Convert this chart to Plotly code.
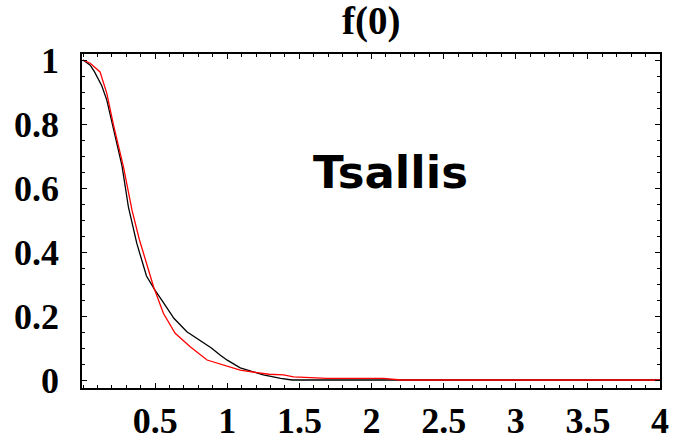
import plotly.graph_objects as go

# Black curve: f(0) sampled densely
x_black = [0.0, 0.05, 0.08, 0.13, 0.165, 0.21, 0.27, 0.315, 0.373, 0.44, 0.5,
           0.56, 0.63, 0.72, 0.81, 0.89, 0.95, 1.0, 1.09, 1.18, 1.25, 1.37,
           1.45, 2.0, 3.0, 4.0]
y_black = [1.0, 0.984, 0.963, 0.92, 0.875, 0.79, 0.67, 0.54, 0.427, 0.325, 0.28,
           0.24, 0.193, 0.151, 0.125, 0.1, 0.078, 0.062, 0.038, 0.026, 0.016, 0.005,
           0.0, 0.0, 0.0, 0.0]

# Red curve: Tsallis fit
x_red = [0.0, 0.05, 0.118, 0.165, 0.21, 0.28, 0.34, 0.39, 0.49, 0.558, 0.639,
         0.743, 0.86, 0.974, 1.09, 1.206, 1.29, 1.39, 1.46, 1.69, 2.085, 2.2,
         3.0, 4.0]
y_red = [1.0, 0.99, 0.963, 0.896, 0.80, 0.667, 0.53, 0.44, 0.29, 0.208, 0.146,
         0.104, 0.0625, 0.047, 0.031, 0.023, 0.018, 0.016, 0.01, 0.005, 0.005, 0.0,
         0.0, 0.0]

x_tickvals = [0.5, 1, 1.5, 2, 2.5, 3, 3.5, 4]
x_ticktext = ["0.5", "1", "1.5", "2", "2.5", "3", "3.5", "4"]
y_tickvals = [0, 0.2, 0.4, 0.6, 0.8, 1.0]
y_ticktext = ["0", "0.2", "0.4", "0.6", "0.8", "1"]

fig = go.Figure()
fig.add_trace(go.Scatter(x=x_black, y=y_black, mode="lines",
                         line=dict(color="black", width=1.3), showlegend=False))
fig.add_trace(go.Scatter(x=x_red, y=y_red, mode="lines",
                         line=dict(color="#ff0000", width=1.3), showlegend=False))

tick_font = dict(family="Liberation Serif", size=36, color="black", weight="bold")

fig.update_xaxes(
    range=[-0.007, 4.0], showgrid=False, zeroline=False, automargin=False,
    showline=True, linecolor="black", linewidth=1.5, mirror="allticks",
    tickmode="array", tickvals=x_tickvals, ticktext=x_ticktext,
    ticks="inside", ticklen=5, tickwidth=1, tickcolor="black",
    tickfont=tick_font, ticklabelstandoff=0,
    minor=dict(tickmode="linear", tick0=0, dtick=0.1, ticks="inside",
               ticklen=3, tickwidth=1, tickcolor="black"),
)
fig.update_yaxes(
    range=[-0.025, 1.019], showgrid=False, zeroline=False, automargin=False,
    showline=True, linecolor="black", linewidth=1.5, mirror="allticks",
    tickmode="array", tickvals=y_tickvals, ticktext=y_ticktext,
    ticks="inside", ticklen=5, tickwidth=1, tickcolor="black",
    tickfont=tick_font, ticklabelstandoff=14,
    minor=dict(tickmode="linear", tick0=0, dtick=0.05, ticks="inside",
               ticklen=3, tickwidth=1, tickcolor="black"),
)

fig.add_annotation(
    text="<b>f(0)</b>", xref="paper", yref="paper", x=0.5, y=1.1,
    xanchor="center", yanchor="middle", showarrow=False,
    font=dict(family="Liberation Serif", size=39, color="black"),
)
fig.add_annotation(
    text="<b>Tsallis</b>", x=2.13, y=0.65, xanchor="center", yanchor="middle",
    showarrow=False,
    font=dict(family="DejaVu Sans", size=45, color="black"),
)

fig.update_layout(
    width=674, height=444,
    margin=dict(l=82, r=14, t=54, b=56),
    paper_bgcolor="white", plot_bgcolor="white",
)

fig.write_html("out.html")
